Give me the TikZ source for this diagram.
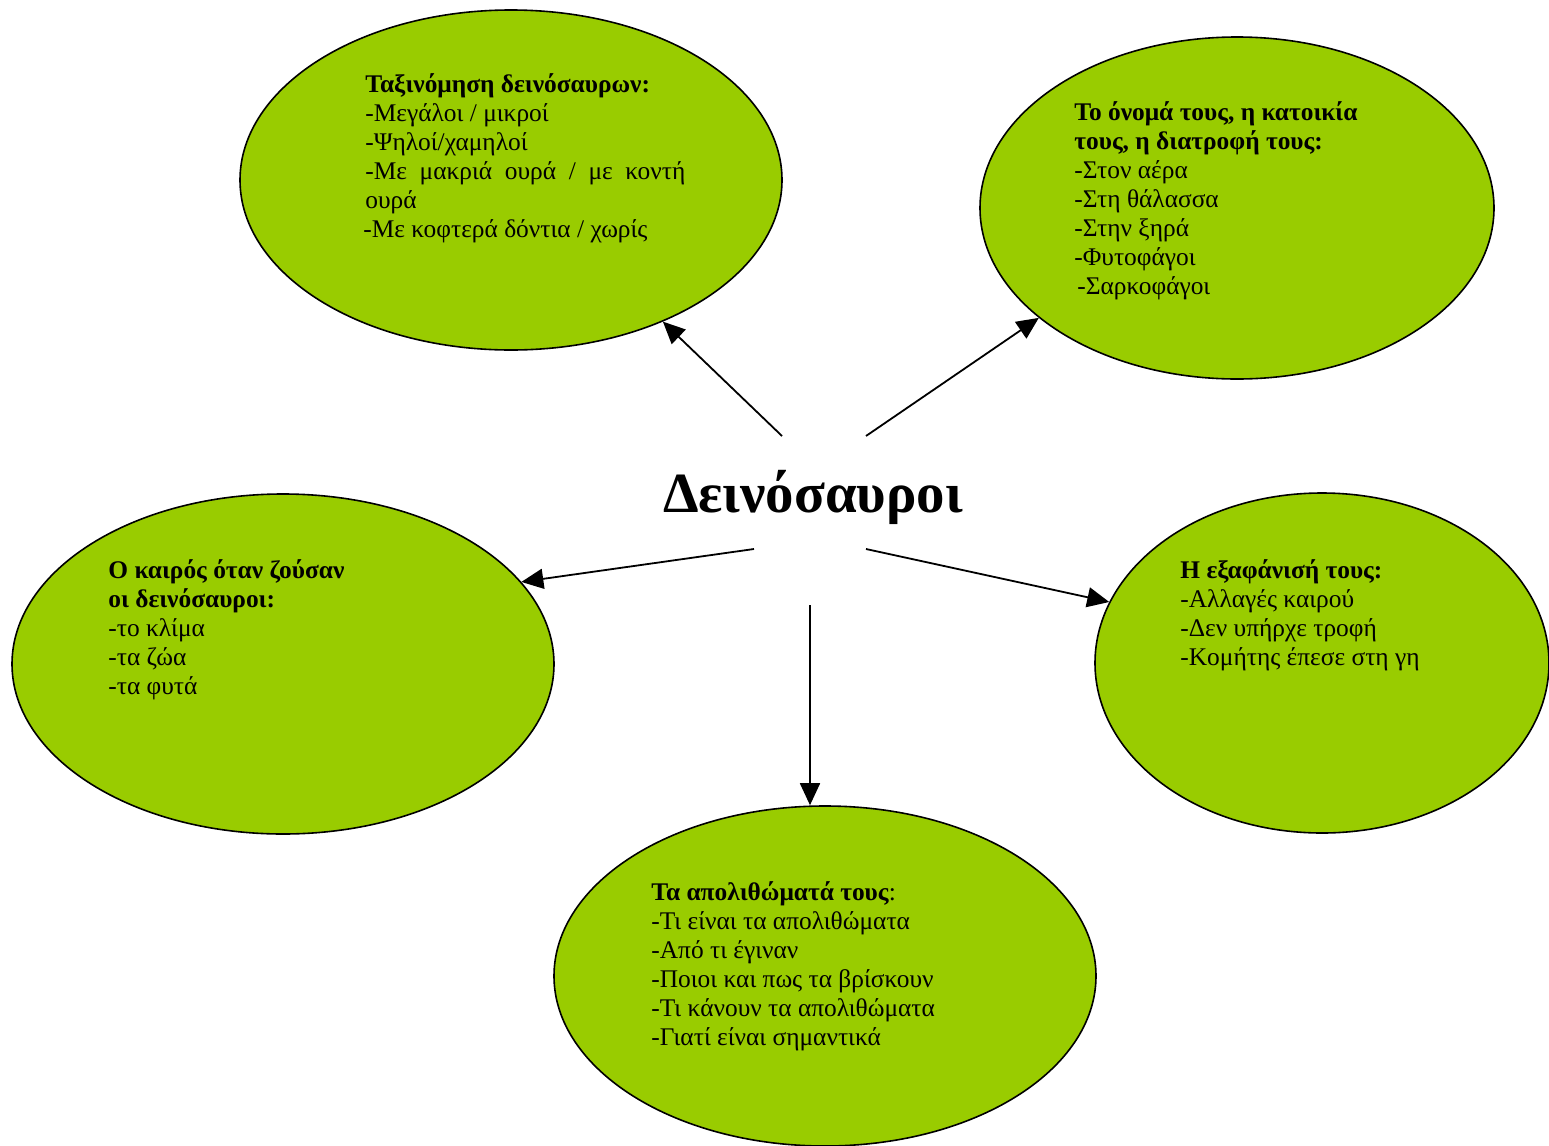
\documentclass[tikz,border=0pt]{standalone}
\usepackage{fontspec}
\setmainfont{Liberation Serif}
\usetikzlibrary{shapes.geometric,arrows.meta}
\definecolor{blobgreen}{HTML}{99CC00}
\tikzset{
  blob/.style={ellipse, draw=black, line width=0.8pt, fill=blobgreen, inner sep=0pt},
  blobtext/.style={anchor=north west, align=left, inner sep=0pt, font=\fontsize{12.7}{14.5}\selectfont},
  link/.style={line width=0.9pt, -{Triangle[length=11pt,width=10pt]}},
}
\begin{document}
\begin{tikzpicture}[x=0.5pt,y=-0.5pt]
\useasboundingbox (0,0) rectangle (1549,1146);
% ellipses (sizes in pt = radius in px)
\node[blob, minimum width=271pt, minimum height=170pt] (tl) at (511,180) {};
\node[blob, minimum width=257pt, minimum height=171pt] (tr) at (1237,208) {};
\node[blob, minimum width=271pt, minimum height=170pt] (lf) at (283,664) {};
\node[blob, minimum width=227pt, minimum height=170pt] (rt) at (1322,663) {};
\node[blob, minimum width=271pt, minimum height=170pt] (bt) at (825,976) {};
% texts
\node[blobtext] (tltext) at (365,73) {\textbf{Ταξινόμηση δεινόσαυρων:}\\
-Μεγάλοι / μικροί\\
-Ψηλοί/χαμηλοί\\
\makebox[160pt][s]{-Με μακριά ουρά / με κοντή}\\
ουρά\\
\hspace*{-1pt}-Με κοφτερά δόντια / χωρίς};
\node[blobtext] (trtext) at (1074,101) {\textbf{Το όνομά τους, η κατοικία}\\
\textbf{τους, η διατροφή τους:}\\
-Στον αέρα\\
-Στη θάλασσα\\
-Στην ξηρά\\
-Φυτοφάγοι\\
\hspace*{1.5pt}-Σαρκοφάγοι};
\node[blobtext] (lftext) at (108,559) {\textbf{Ο καιρός όταν ζούσαν}\\
\textbf{οι δεινόσαυροι:}\\
-το κλίμα\\
-τα ζώα\\
-τα φυτά};
\node[blobtext] (rttext) at (1180,559) {\textbf{Η εξαφάνισή τους:}\\
-Αλλαγές καιρού\\
-Δεν υπήρχε τροφή\\
-Κομήτης έπεσε στη γη};
\node[blobtext] (bttext) at (651,881) {\textbf{Τα απολιθώματά τους}:\\
-Τι είναι τα απολιθώματα\\
-Από τι έγιναν\\
-Ποιοι και πως τα βρίσκουν\\
-Τι κάνουν τα απολιθώματα\\
-Γιατί είναι σημαντικά};
% title
\node[anchor=base, inner sep=0pt, font=\fontsize{28.4}{34}\selectfont\bfseries] (title) at (813,512) {Δεινόσαυροι};
% arrow starts
\coordinate (s1) at (782,436);
\coordinate (s2) at (866,436);
\coordinate (s3) at (754,549);
\coordinate (s4) at (866,549);
\coordinate (s5) at (810,605);
\draw[link] (s1) -- (tl.317.6);
\draw[link] (s2) -- (tr.209.9);
\draw[link] (s3) -- (lf.19.6);
\draw[link] (s4) -- (rt.164.1);
\draw[link] (s5) -- (s5 |- bt.north);
\end{tikzpicture}
\end{document}
